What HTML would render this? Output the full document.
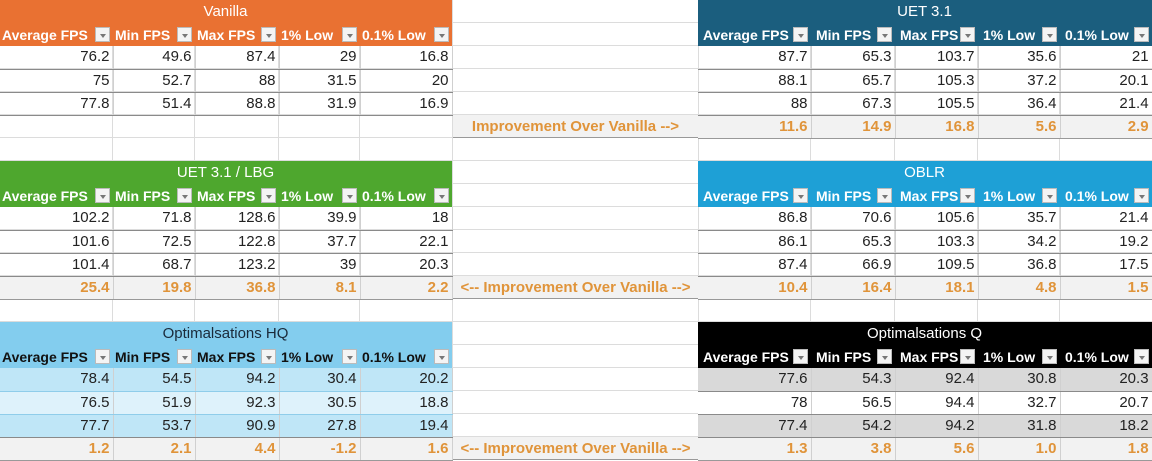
<!DOCTYPE html>
<html><head><meta charset="utf-8"><style>
*{margin:0;padding:0;box-sizing:border-box}
body{width:1152px;height:461px;background:#fff;position:relative;overflow:hidden;font-family:"Liberation Sans",Arial,sans-serif}
.grid{position:absolute;left:0;top:0;width:1152px;height:461px;
background-image:linear-gradient(#dcdcdc 1px,transparent 1px);background-size:100% 23px;background-position:0 22px}
.vl{position:absolute;top:0;height:461px;width:1px;background:#dcdcdc}
table{position:absolute;border-collapse:collapse;table-layout:fixed}
td{height:23px;font-size:15px;color:#222;text-align:right;padding:0 3px 0 2px;white-space:nowrap;overflow:hidden;border-right:1px solid #d0d0d0;border-bottom:1px solid #8a8a8a;line-height:22px}
td.t{text-align:center;border:none;color:#fff;font-size:15px}
td.h{text-align:left;font-weight:bold;font-size:14px;color:#fff;border:none;position:relative;padding-left:2px}
.r td.h{padding-left:5px}
td.h i{position:absolute;right:3px;top:4px;width:15px;height:15px;background:#f4f4f4;border:1px solid #bbb}
td.h i:after{content:"";position:absolute;left:4px;top:6px;border-left:3px solid transparent;border-right:3px solid transparent;border-top:4px solid #777}
tr.imp td{background:#f2f2f2;color:#e0943a;font-weight:bold;border-bottom:1px solid #999}
.mid{position:absolute;left:453px;width:245px;height:23px;background:#f2f2f2;color:#e0943a;font-weight:bold;font-size:15px;text-align:center;line-height:23px;border-bottom:1px solid #999}
</style></head><body>
<div class="grid"></div>
<div class="vl" style="left:112px"></div><div class="vl" style="left:194px"></div><div class="vl" style="left:278px"></div><div class="vl" style="left:359px"></div><div class="vl" style="left:452px"></div><div class="vl" style="left:698px"></div><div class="vl" style="left:810px"></div><div class="vl" style="left:894px"></div><div class="vl" style="left:977px"></div><div class="vl" style="left:1059px"></div>

<!-- Vanilla -->
<table style="left:0;top:0;width:452px">
<colgroup><col style="width:113px"><col style="width:82px"><col style="width:84px"><col style="width:81px"><col style="width:92px"></colgroup>
<tr style="background:#e97132"><td class="t" colspan="5">Vanilla</td></tr>
<tr style="background:#e97132"><td class="h">Average FPS<i></i></td><td class="h">Min FPS<i></i></td><td class="h">Max FPS<i></i></td><td class="h">1% Low<i></i></td><td class="h">0.1% Low<i></i></td></tr>
<tr><td>76.2</td><td>49.6</td><td>87.4</td><td>29</td><td>16.8</td></tr>
<tr><td>75</td><td>52.7</td><td>88</td><td>31.5</td><td>20</td></tr>
<tr><td>77.8</td><td>51.4</td><td>88.8</td><td>31.9</td><td>16.9</td></tr>
</table>

<!-- UET 3.1 -->
<table class="r" style="left:698px;top:0;width:454px">
<colgroup><col style="width:113px"><col style="width:84px"><col style="width:83px"><col style="width:82px"><col style="width:92px"></colgroup>
<tr style="background:#1b5e7e"><td class="t" colspan="5">UET 3.1</td></tr>
<tr style="background:#1b5e7e"><td class="h">Average FPS<i></i></td><td class="h">Min FPS<i></i></td><td class="h">Max FPS<i></i></td><td class="h">1% Low<i></i></td><td class="h">0.1% Low<i></i></td></tr>
<tr><td>87.7</td><td>65.3</td><td>103.7</td><td>35.6</td><td>21</td></tr>
<tr><td>88.1</td><td>65.7</td><td>105.3</td><td>37.2</td><td>20.1</td></tr>
<tr><td>88</td><td>67.3</td><td>105.5</td><td>36.4</td><td>21.4</td></tr>
<tr class="imp"><td>11.6</td><td>14.9</td><td>16.8</td><td>5.6</td><td>2.9</td></tr>
</table>
<div class="mid" style="top:115px">Improvement Over Vanilla --&gt;</div>

<!-- UET 3.1 / LBG -->
<table style="left:0;top:161px;width:452px">
<colgroup><col style="width:113px"><col style="width:82px"><col style="width:84px"><col style="width:81px"><col style="width:92px"></colgroup>
<tr style="background:#4ea72e"><td class="t" colspan="5">UET 3.1 / LBG</td></tr>
<tr style="background:#4ea72e"><td class="h">Average FPS<i></i></td><td class="h">Min FPS<i></i></td><td class="h">Max FPS<i></i></td><td class="h">1% Low<i></i></td><td class="h">0.1% Low<i></i></td></tr>
<tr><td>102.2</td><td>71.8</td><td>128.6</td><td>39.9</td><td>18</td></tr>
<tr><td>101.6</td><td>72.5</td><td>122.8</td><td>37.7</td><td>22.1</td></tr>
<tr><td>101.4</td><td>68.7</td><td>123.2</td><td>39</td><td>20.3</td></tr>
<tr class="imp"><td>25.4</td><td>19.8</td><td>36.8</td><td>8.1</td><td>2.2</td></tr>
</table>

<!-- OBLR -->
<table class="r" style="left:698px;top:161px;width:454px">
<colgroup><col style="width:113px"><col style="width:84px"><col style="width:83px"><col style="width:82px"><col style="width:92px"></colgroup>
<tr style="background:#1ea0d6"><td class="t" colspan="5">OBLR</td></tr>
<tr style="background:#1ea0d6"><td class="h">Average FPS<i></i></td><td class="h">Min FPS<i></i></td><td class="h">Max FPS<i></i></td><td class="h">1% Low<i></i></td><td class="h">0.1% Low<i></i></td></tr>
<tr><td>86.8</td><td>70.6</td><td>105.6</td><td>35.7</td><td>21.4</td></tr>
<tr><td>86.1</td><td>65.3</td><td>103.3</td><td>34.2</td><td>19.2</td></tr>
<tr><td>87.4</td><td>66.9</td><td>109.5</td><td>36.8</td><td>17.5</td></tr>
<tr class="imp"><td>10.4</td><td>16.4</td><td>18.1</td><td>4.8</td><td>1.5</td></tr>
</table>
<div class="mid" style="top:276px">&lt;-- Improvement Over Vanilla --&gt;</div>

<!-- HQ -->
<table style="left:0;top:322px;width:452px">
<colgroup><col style="width:113px"><col style="width:82px"><col style="width:84px"><col style="width:81px"><col style="width:92px"></colgroup>
<tr style="background:#83cdee"><td class="t" colspan="5" style="color:#1a2a3a">Optimalsations HQ</td></tr>
<tr style="background:#83cdee"><td class="h" style="color:#111">Average FPS<i></i></td><td class="h" style="color:#111">Min FPS<i></i></td><td class="h" style="color:#111">Max FPS<i></i></td><td class="h" style="color:#111">1% Low<i></i></td><td class="h" style="color:#111">0.1% Low<i></i></td></tr>
<tr style="background:#bfe6f7"><td style="border-bottom-color:#8fcdea">78.4</td><td style="border-bottom-color:#8fcdea">54.5</td><td style="border-bottom-color:#8fcdea">94.2</td><td style="border-bottom-color:#8fcdea">30.4</td><td style="border-bottom-color:#8fcdea">20.2</td></tr>
<tr style="background:#def2fb"><td style="border-bottom-color:#8fcdea">76.5</td><td style="border-bottom-color:#8fcdea">51.9</td><td style="border-bottom-color:#8fcdea">92.3</td><td style="border-bottom-color:#8fcdea">30.5</td><td style="border-bottom-color:#8fcdea">18.8</td></tr>
<tr style="background:#bfe6f7"><td>77.7</td><td>53.7</td><td>90.9</td><td>27.8</td><td>19.4</td></tr>
<tr class="imp"><td>1.2</td><td>2.1</td><td>4.4</td><td>-1.2</td><td>1.6</td></tr>
</table>

<!-- Q -->
<table class="r" style="left:698px;top:322px;width:454px">
<colgroup><col style="width:113px"><col style="width:84px"><col style="width:83px"><col style="width:82px"><col style="width:92px"></colgroup>
<tr style="background:#000"><td class="t" colspan="5">Optimalsations Q</td></tr>
<tr style="background:#000"><td class="h">Average FPS<i></i></td><td class="h">Min FPS<i></i></td><td class="h">Max FPS<i></i></td><td class="h">1% Low<i></i></td><td class="h">0.1% Low<i></i></td></tr>
<tr style="background:#d9d9d9"><td>77.6</td><td>54.3</td><td>92.4</td><td>30.8</td><td>20.3</td></tr>
<tr style="background:#fff"><td>78</td><td>56.5</td><td>94.4</td><td>32.7</td><td>20.7</td></tr>
<tr style="background:#d9d9d9"><td>77.4</td><td>54.2</td><td>94.2</td><td>31.8</td><td>18.2</td></tr>
<tr class="imp"><td>1.3</td><td>3.8</td><td>5.6</td><td>1.0</td><td>1.8</td></tr>
</table>
<div class="mid" style="top:437px">&lt;-- Improvement Over Vanilla --&gt;</div>
</body></html>
